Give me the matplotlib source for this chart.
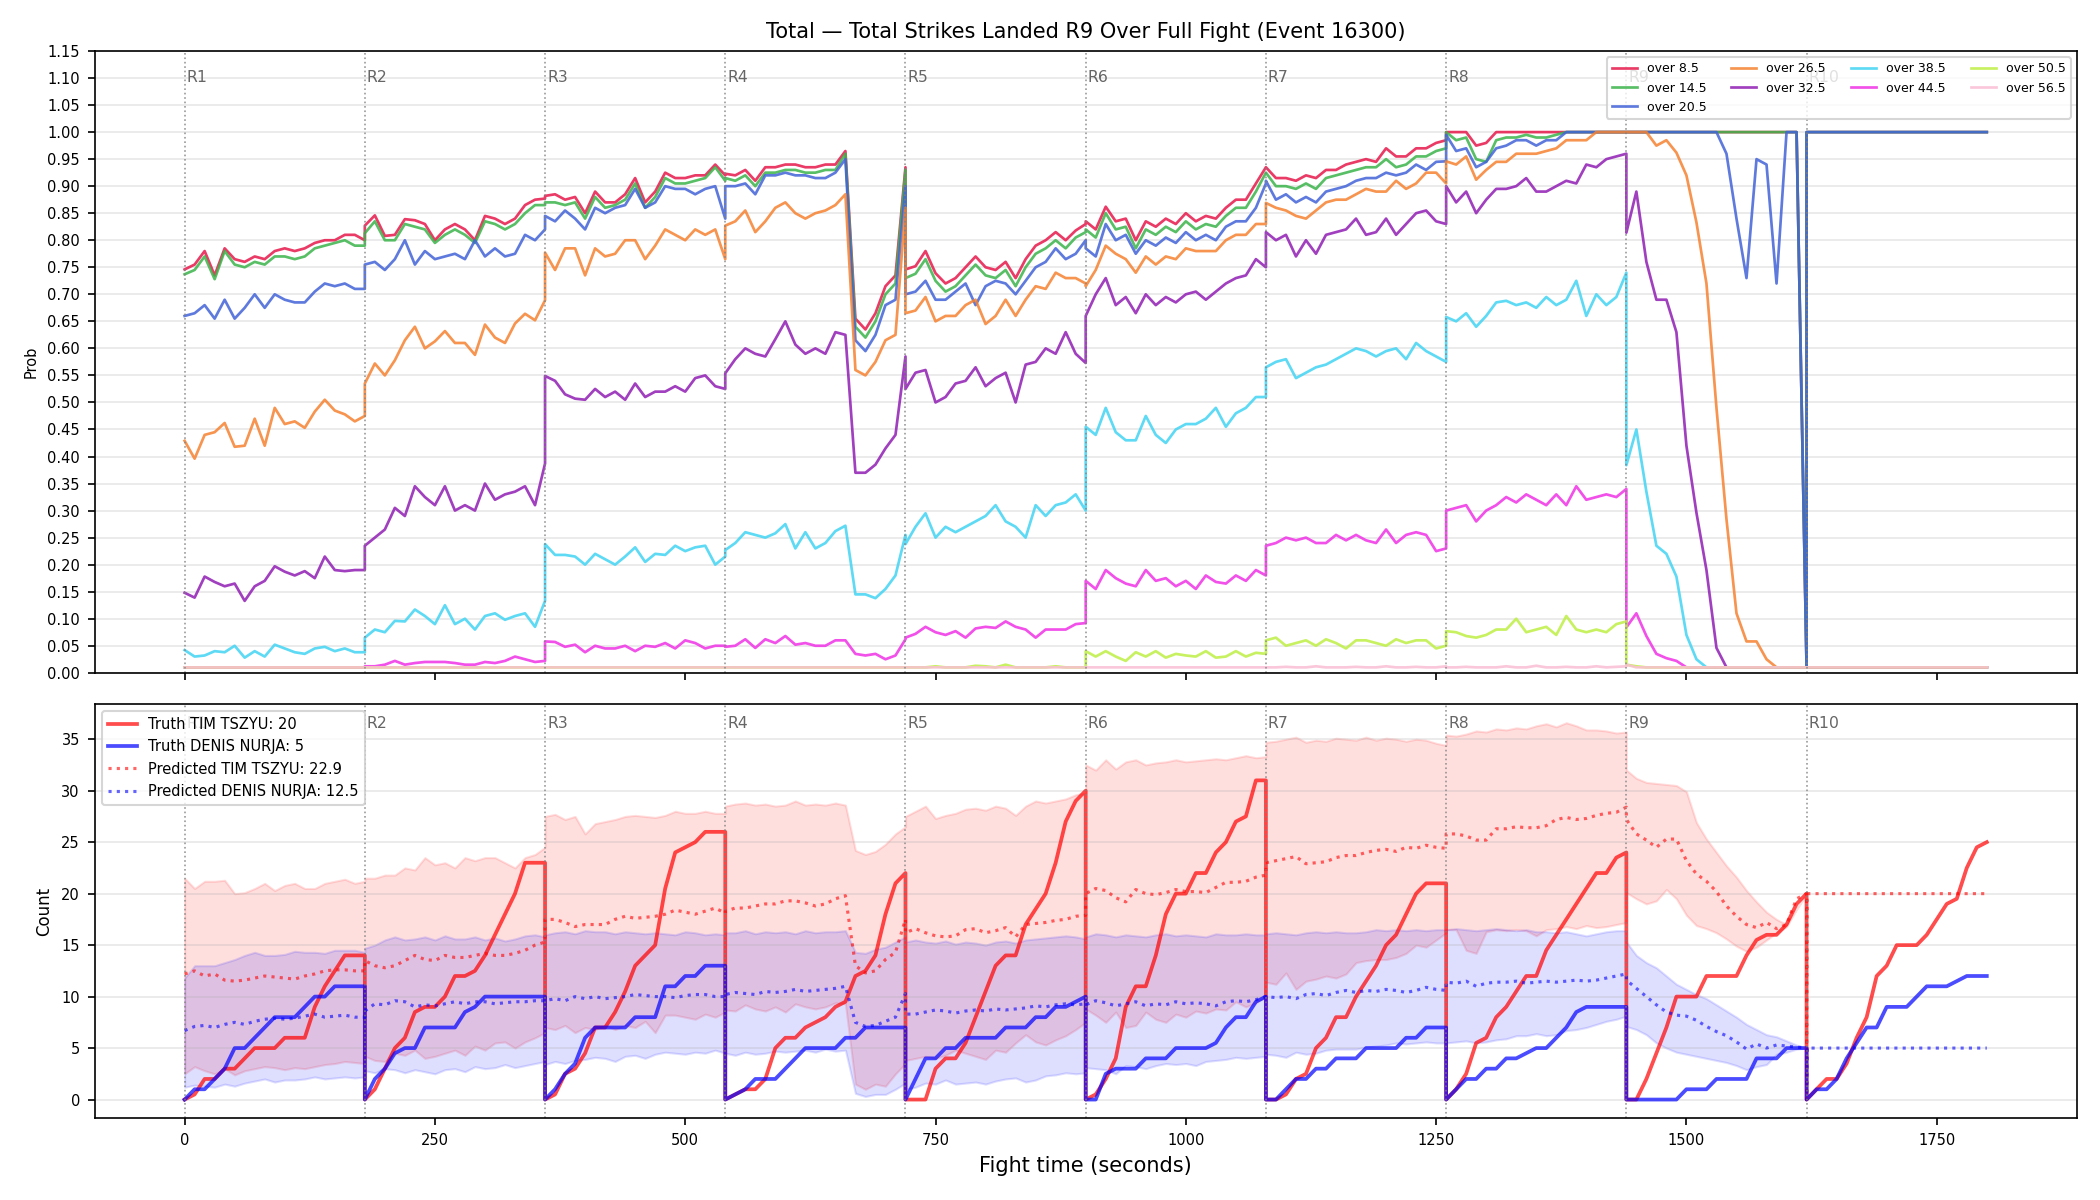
import numpy as np
import matplotlib.pyplot as plt

# ---- time grid: samples every 10 s inside each 180 s round ----
round_starts = [0, 180, 360, 540, 720, 900, 1080, 1260, 1440, 1620]
sec = list(range(0, 181, 10))
t_full = [s0 + s for s0 in round_starts for s in sec]
t_band = [s0 + s for s0 in round_starts[:9] for s in sec]
pred_r10_sec = [0, 0.5] + list(range(10, 181, 10))
t_pred = t_band + [1620 + s for s in pred_r10_sec]

# ---- top panel: P(total > line), one sub-list per round ----
over_8_5 = [
    [0.746, 0.755, 0.78, 0.735, 0.785, 0.765, 0.76, 0.77, 0.765, 0.78, 0.785, 0.78, 0.785, 0.795, 0.80, 0.80, 0.81, 0.81, 0.80],
    [0.827, 0.846, 0.808, 0.81, 0.839, 0.837, 0.83, 0.80, 0.82, 0.83, 0.82, 0.80, 0.845, 0.84, 0.83, 0.84, 0.865, 0.875, 0.877],
    [0.882, 0.885, 0.875, 0.88, 0.85, 0.89, 0.87, 0.87, 0.885, 0.915, 0.87, 0.89, 0.925, 0.915, 0.915, 0.92, 0.92, 0.94, 0.92],
    [0.923, 0.92, 0.93, 0.91, 0.935, 0.935, 0.94, 0.94, 0.935, 0.935, 0.94, 0.94, 0.965, 0.655, 0.635, 0.665, 0.715, 0.735, 0.935],
    [0.746, 0.752, 0.78, 0.739, 0.72, 0.73, 0.75, 0.77, 0.75, 0.745, 0.76, 0.73, 0.765, 0.79, 0.80, 0.815, 0.80, 0.818, 0.83],
    [0.835, 0.82, 0.862, 0.835, 0.84, 0.80, 0.835, 0.825, 0.84, 0.83, 0.85, 0.835, 0.845, 0.84, 0.86, 0.875, 0.875, 0.905, 0.935],
    [0.935, 0.915, 0.915, 0.91, 0.92, 0.915, 0.93, 0.93, 0.94, 0.945, 0.95, 0.945, 0.97, 0.955, 0.955, 0.97, 0.97, 0.98, 0.985],
    [1.0, 1.0, 1.0, 0.975, 0.98, 1.0, 1.0, 1.0, 1.0, 1.0, 1.0, 1.0, 1.0, 1.0, 1.0, 1.0, 1.0, 1.0, 1.0],
    [1.0] * 18 + [0.01],
    [1.0] * 19,
]
over_14_5 = [
    [0.737, 0.745, 0.77, 0.728, 0.78, 0.755, 0.75, 0.76, 0.755, 0.77, 0.77, 0.765, 0.77, 0.785, 0.79, 0.795, 0.80, 0.79, 0.79],
    [0.813, 0.835, 0.80, 0.80, 0.83, 0.825, 0.82, 0.795, 0.81, 0.82, 0.81, 0.795, 0.835, 0.83, 0.82, 0.83, 0.85, 0.865, 0.865],
    [0.87, 0.87, 0.865, 0.87, 0.84, 0.88, 0.86, 0.865, 0.875, 0.905, 0.86, 0.88, 0.915, 0.905, 0.905, 0.91, 0.915, 0.935, 0.91],
    [0.915, 0.91, 0.92, 0.90, 0.925, 0.925, 0.93, 0.93, 0.925, 0.925, 0.93, 0.93, 0.96, 0.64, 0.62, 0.65, 0.70, 0.72, 0.93],
    [0.73, 0.738, 0.765, 0.725, 0.705, 0.715, 0.735, 0.755, 0.735, 0.73, 0.745, 0.715, 0.75, 0.775, 0.785, 0.80, 0.785, 0.805, 0.815],
    [0.82, 0.805, 0.85, 0.82, 0.825, 0.785, 0.82, 0.81, 0.825, 0.815, 0.835, 0.82, 0.83, 0.825, 0.845, 0.86, 0.86, 0.89, 0.925],
    [0.925, 0.90, 0.90, 0.895, 0.905, 0.895, 0.915, 0.92, 0.925, 0.93, 0.935, 0.935, 0.95, 0.935, 0.94, 0.955, 0.955, 0.965, 0.97],
    [1.0, 0.985, 0.99, 0.95, 0.945, 0.985, 0.99, 0.99, 0.995, 0.99, 0.99, 0.995, 1.0, 1.0, 1.0, 1.0, 1.0, 1.0, 1.0],
    [1.0] * 18 + [0.01],
    [1.0] * 19,
]
over_20_5 = [
    [0.66, 0.665, 0.68, 0.655, 0.69, 0.655, 0.675, 0.70, 0.675, 0.70, 0.69, 0.685, 0.685, 0.705, 0.72, 0.715, 0.72, 0.71, 0.71],
    [0.755, 0.76, 0.745, 0.765, 0.80, 0.755, 0.78, 0.765, 0.77, 0.775, 0.765, 0.80, 0.77, 0.785, 0.77, 0.775, 0.81, 0.80, 0.82],
    [0.845, 0.835, 0.855, 0.84, 0.82, 0.86, 0.85, 0.86, 0.865, 0.895, 0.86, 0.87, 0.90, 0.895, 0.895, 0.885, 0.895, 0.90, 0.84],
    [0.90, 0.90, 0.905, 0.885, 0.92, 0.92, 0.925, 0.92, 0.92, 0.915, 0.915, 0.925, 0.95, 0.615, 0.595, 0.625, 0.68, 0.69, 0.90],
    [0.70, 0.705, 0.725, 0.69, 0.69, 0.705, 0.72, 0.68, 0.715, 0.725, 0.72, 0.70, 0.725, 0.75, 0.76, 0.785, 0.765, 0.775, 0.80],
    [0.785, 0.77, 0.83, 0.80, 0.81, 0.775, 0.80, 0.79, 0.805, 0.795, 0.815, 0.80, 0.81, 0.80, 0.825, 0.835, 0.835, 0.86, 0.905],
    [0.91, 0.875, 0.885, 0.87, 0.88, 0.87, 0.89, 0.895, 0.90, 0.91, 0.915, 0.915, 0.925, 0.92, 0.925, 0.94, 0.93, 0.945, 0.946],
    [0.995, 0.965, 0.97, 0.935, 0.945, 0.97, 0.975, 0.985, 0.985, 0.975, 0.985, 0.985, 1.0, 1.0, 1.0, 1.0, 1.0, 1.0, 1.0],
    [1.0] * 10 + [0.96, 0.84, 0.73, 0.95, 0.94, 0.72, 1.0, 1.0, 0.01],
    [1.0] * 19,
]
over_26_5 = [
    [0.429, 0.396, 0.44, 0.445, 0.462, 0.418, 0.42, 0.47, 0.42, 0.49, 0.46, 0.465, 0.453, 0.483, 0.505, 0.485, 0.478, 0.465, 0.475],
    [0.535, 0.572, 0.55, 0.578, 0.615, 0.64, 0.60, 0.613, 0.632, 0.61, 0.61, 0.588, 0.644, 0.62, 0.61, 0.646, 0.664, 0.652, 0.689],
    [0.777, 0.745, 0.785, 0.785, 0.735, 0.785, 0.77, 0.775, 0.80, 0.80, 0.765, 0.79, 0.82, 0.81, 0.80, 0.82, 0.81, 0.82, 0.765],
    [0.827, 0.835, 0.855, 0.815, 0.835, 0.86, 0.87, 0.85, 0.84, 0.85, 0.855, 0.865, 0.885, 0.56, 0.55, 0.575, 0.615, 0.625, 0.86],
    [0.665, 0.67, 0.695, 0.65, 0.66, 0.66, 0.68, 0.69, 0.645, 0.66, 0.69, 0.66, 0.69, 0.715, 0.71, 0.74, 0.73, 0.73, 0.72],
    [0.715, 0.745, 0.79, 0.775, 0.765, 0.74, 0.77, 0.755, 0.77, 0.765, 0.785, 0.78, 0.78, 0.78, 0.80, 0.81, 0.81, 0.83, 0.83],
    [0.869, 0.86, 0.855, 0.845, 0.84, 0.855, 0.87, 0.875, 0.875, 0.885, 0.895, 0.89, 0.89, 0.91, 0.895, 0.905, 0.925, 0.925, 0.905],
    [0.946, 0.94, 0.955, 0.912, 0.93, 0.945, 0.945, 0.96, 0.96, 0.96, 0.965, 0.97, 0.985, 0.985, 0.985, 1.0, 1.0, 1.0, 1.0],
    [1.0, 1.0, 1.0, 0.975, 0.985, 0.962, 0.92, 0.833, 0.72, 0.49, 0.284, 0.11, 0.058, 0.058, 0.025, 0.01, 0.01, 0.01, 0.01],
    [0.01] * 19,
]
over_32_5 = [
    [0.148, 0.139, 0.178, 0.168, 0.16, 0.165, 0.133, 0.16, 0.17, 0.197, 0.187, 0.18, 0.188, 0.175, 0.215, 0.19, 0.188, 0.19, 0.19],
    [0.235, 0.25, 0.265, 0.305, 0.29, 0.345, 0.325, 0.31, 0.345, 0.30, 0.31, 0.30, 0.35, 0.32, 0.33, 0.335, 0.345, 0.31, 0.387],
    [0.549, 0.54, 0.515, 0.507, 0.505, 0.525, 0.51, 0.52, 0.505, 0.535, 0.51, 0.52, 0.52, 0.53, 0.52, 0.545, 0.55, 0.53, 0.525],
    [0.554, 0.58, 0.60, 0.59, 0.585, 0.617, 0.65, 0.607, 0.59, 0.60, 0.59, 0.63, 0.625, 0.37, 0.37, 0.385, 0.415, 0.44, 0.585],
    [0.525, 0.555, 0.56, 0.50, 0.51, 0.535, 0.54, 0.565, 0.53, 0.545, 0.555, 0.50, 0.57, 0.575, 0.60, 0.59, 0.63, 0.59, 0.573],
    [0.66, 0.70, 0.73, 0.68, 0.695, 0.665, 0.70, 0.68, 0.695, 0.685, 0.70, 0.705, 0.69, 0.705, 0.72, 0.73, 0.735, 0.765, 0.75],
    [0.815, 0.80, 0.81, 0.77, 0.80, 0.775, 0.81, 0.815, 0.82, 0.84, 0.81, 0.815, 0.84, 0.81, 0.83, 0.85, 0.855, 0.835, 0.83],
    [0.90, 0.87, 0.89, 0.85, 0.875, 0.895, 0.895, 0.90, 0.915, 0.89, 0.89, 0.90, 0.91, 0.905, 0.94, 0.935, 0.95, 0.955, 0.96],
    [0.814, 0.89, 0.76, 0.69, 0.69, 0.63, 0.42, 0.296, 0.19, 0.046] + [0.01] * 9,
    [0.01] * 19,
]
over_38_5 = [
    [0.042, 0.03, 0.032, 0.04, 0.038, 0.05, 0.028, 0.04, 0.03, 0.052, 0.045, 0.038, 0.035, 0.045, 0.048, 0.04, 0.045, 0.038, 0.038],
    [0.065, 0.08, 0.075, 0.096, 0.095, 0.117, 0.105, 0.09, 0.125, 0.09, 0.10, 0.08, 0.105, 0.11, 0.098, 0.105, 0.11, 0.085, 0.133],
    [0.238, 0.218, 0.218, 0.215, 0.20, 0.22, 0.21, 0.20, 0.215, 0.232, 0.205, 0.22, 0.218, 0.235, 0.225, 0.232, 0.235, 0.20, 0.215],
    [0.227, 0.24, 0.26, 0.255, 0.25, 0.258, 0.275, 0.23, 0.26, 0.23, 0.24, 0.262, 0.272, 0.145, 0.145, 0.138, 0.155, 0.18, 0.255],
    [0.238, 0.27, 0.295, 0.25, 0.27, 0.26, 0.27, 0.28, 0.29, 0.31, 0.28, 0.27, 0.25, 0.31, 0.29, 0.31, 0.315, 0.33, 0.30],
    [0.455, 0.44, 0.49, 0.445, 0.43, 0.43, 0.475, 0.44, 0.425, 0.45, 0.46, 0.46, 0.47, 0.49, 0.455, 0.48, 0.49, 0.51, 0.51],
    [0.565, 0.575, 0.58, 0.545, 0.555, 0.565, 0.57, 0.58, 0.59, 0.60, 0.595, 0.585, 0.595, 0.60, 0.58, 0.61, 0.595, 0.585, 0.575],
    [0.658, 0.65, 0.665, 0.64, 0.66, 0.685, 0.688, 0.68, 0.685, 0.675, 0.695, 0.68, 0.69, 0.725, 0.66, 0.70, 0.68, 0.695, 0.74],
    [0.384, 0.45, 0.335, 0.235, 0.22, 0.178, 0.07, 0.025] + [0.01] * 11,
    [0.01] * 19,
]
over_44_5 = [
    [0.01] * 19,
    [0.012, 0.012, 0.015, 0.022, 0.015, 0.018, 0.02, 0.02, 0.02, 0.018, 0.015, 0.015, 0.02, 0.018, 0.022, 0.03, 0.025, 0.02, 0.022],
    [0.058, 0.057, 0.048, 0.052, 0.038, 0.05, 0.045, 0.045, 0.05, 0.04, 0.05, 0.048, 0.055, 0.045, 0.06, 0.055, 0.045, 0.05, 0.05],
    [0.048, 0.05, 0.062, 0.046, 0.062, 0.055, 0.068, 0.052, 0.055, 0.05, 0.05, 0.06, 0.06, 0.035, 0.032, 0.035, 0.025, 0.032, 0.062],
    [0.065, 0.072, 0.085, 0.075, 0.07, 0.077, 0.065, 0.082, 0.085, 0.083, 0.095, 0.085, 0.08, 0.065, 0.08, 0.08, 0.08, 0.09, 0.092],
    [0.17, 0.155, 0.19, 0.175, 0.165, 0.16, 0.19, 0.17, 0.175, 0.16, 0.17, 0.155, 0.18, 0.168, 0.165, 0.18, 0.17, 0.19, 0.18],
    [0.235, 0.24, 0.25, 0.245, 0.25, 0.24, 0.24, 0.255, 0.245, 0.255, 0.245, 0.24, 0.265, 0.24, 0.255, 0.26, 0.255, 0.225, 0.23],
    [0.30, 0.305, 0.31, 0.28, 0.30, 0.31, 0.325, 0.315, 0.33, 0.32, 0.31, 0.33, 0.31, 0.345, 0.32, 0.325, 0.33, 0.325, 0.34],
    [0.084, 0.11, 0.068, 0.035, 0.027, 0.022] + [0.01] * 13,
    [0.01] * 19,
]
over_50_5 = [
    [0.01] * 19,
    [0.01] * 19,
    [0.01] * 19,
    [0.01] * 19,
    [0.01, 0.01, 0.01, 0.012, 0.01, 0.01, 0.01, 0.013, 0.012, 0.01, 0.015, 0.01, 0.01, 0.01, 0.01, 0.012, 0.01, 0.01, 0.01],
    [0.04, 0.03, 0.04, 0.03, 0.022, 0.038, 0.03, 0.04, 0.028, 0.035, 0.032, 0.03, 0.04, 0.028, 0.03, 0.04, 0.03, 0.037, 0.035],
    [0.06, 0.065, 0.05, 0.055, 0.06, 0.05, 0.062, 0.055, 0.045, 0.06, 0.06, 0.055, 0.05, 0.062, 0.055, 0.06, 0.06, 0.045, 0.05],
    [0.077, 0.075, 0.068, 0.065, 0.07, 0.08, 0.08, 0.10, 0.075, 0.08, 0.085, 0.07, 0.105, 0.08, 0.075, 0.08, 0.075, 0.09, 0.095],
    [0.015, 0.012] + [0.01] * 17,
    [0.01] * 19,
]
over_56_5 = [
    [0.01] * 19,
    [0.01] * 19,
    [0.01] * 19,
    [0.01] * 19,
    [0.01] * 19,
    [0.01] * 19,
    [0.01, 0.01, 0.011, 0.01, 0.01, 0.012, 0.01, 0.01, 0.01, 0.011, 0.01, 0.01, 0.012, 0.01, 0.01, 0.011, 0.01, 0.01, 0.012],
    [0.01, 0.01, 0.011, 0.01, 0.01, 0.01, 0.012, 0.01, 0.01, 0.013, 0.01, 0.01, 0.011, 0.01, 0.01, 0.012, 0.01, 0.011, 0.012],
    [0.015] + [0.01] * 18,
    [0.01] * 19,
]
line_labels = ['over 8.5', 'over 14.5', 'over 20.5', 'over 26.5', 'over 32.5',
               'over 38.5', 'over 44.5', 'over 50.5', 'over 56.5']
line_colors = ['#e6194b', '#3cb44b', '#4363d8', '#f58231', '#911eb4',
               '#42d4f4', '#f032e6', '#bfef45', '#fabed4']
prob_series = [over_8_5, over_14_5, over_20_5, over_26_5, over_32_5,
               over_38_5, over_44_5, over_50_5, over_56_5]

# ---- bottom panel: cumulative strikes per round ----
fighters = ['TIM TSZYU', 'DENIS NURJA']
truth_r9 = [20, 5]
pred_r9 = [22.9, 12.5]

truth_tszyu = [
    [0, 0.5, 2, 2, 3, 3, 4, 5, 5, 5, 6, 6, 6, 9, 11, 12.5, 14, 14, 14],
    [0, 1, 3, 5, 6, 8.5, 9, 9, 10, 12, 12, 12.5, 14, 16, 18, 20, 23, 23, 23],
    [0, 0.5, 2.5, 3, 4.5, 7, 7, 8.5, 10.5, 13, 14, 15, 20.5, 24, 24.5, 25, 26, 26, 26],
    [0, 0.5, 1, 1, 2, 5, 6, 6, 7, 7.5, 8, 9, 9.5, 12, 12.5, 14, 18, 21, 22],
    [0, 0, 0, 3, 4, 4, 5.5, 8, 10.5, 13, 14, 14, 17, 18.5, 20, 23, 27, 29, 30],
    [0, 0.5, 2, 4, 9, 11, 11, 14, 18, 20, 20, 22, 22, 24, 25, 27, 27.5, 31, 31],
    [0, 0, 0.5, 2, 2.5, 5, 6, 8, 8, 10, 11.5, 13, 15, 16, 18, 20, 21, 21, 21],
    [0, 1, 2.5, 5.5, 6, 8, 9, 10.5, 12, 12, 14.5, 16, 17.5, 19, 20.5, 22, 22, 23.5, 24],
    [0, 0, 2, 4.5, 7, 10, 10, 10, 12, 12, 12, 12, 14, 15.5, 16, 16, 17, 19, 20],
    [0, 1, 2, 2, 3.5, 6, 8, 12, 13, 15, 15, 15, 16, 17.5, 19, 19.5, 22.5, 24.5, 25],
]
truth_nurja = [
    [0, 1, 1, 2, 3, 5, 5, 6, 7, 8, 8, 8, 9, 10, 10, 11, 11, 11, 11],
    [0, 2, 3, 4.5, 5, 5, 7, 7, 7, 7, 8.5, 9, 10, 10, 10, 10, 10, 10, 10],
    [0, 1, 2.5, 3.5, 6, 7, 7, 7, 7, 8, 8, 8, 11, 11, 12, 12, 13, 13, 13],
    [0, 0.5, 1, 2, 2, 2, 3, 4, 5, 5, 5, 5, 6, 6, 7, 7, 7, 7, 7],
    [0, 2, 4, 4, 5, 5, 6, 6, 6, 6, 7, 7, 7, 8, 8, 9, 9, 9.5, 10],
    [0, 0, 2.5, 3, 3, 3, 4, 4, 4, 5, 5, 5, 5, 5.5, 7, 8, 8, 9.5, 10],
    [0, 0, 1, 2, 2, 3, 3, 4, 4, 4, 5, 5, 5, 5, 6, 6, 7, 7, 7],
    [0, 1, 2, 2, 3, 3, 4, 4, 4.5, 5, 5, 6, 7, 8.5, 9, 9, 9, 9, 9],
    [0, 0, 0, 0, 0, 0, 1, 1, 1, 2, 2, 2, 2, 4, 4, 4, 5, 5, 5],
    [0, 1, 1, 2, 4, 5.5, 7, 7, 9, 9, 9, 10, 11, 11, 11, 11.5, 12, 12, 12],
]
pred_tszyu = [
    [12.2, 12.5, 12, 12.2, 11.6, 11.5, 11.6, 11.8, 12, 11.9, 11.8, 11.7, 12, 12.2, 12.5, 12.6, 12.6, 12.5, 12.5],
    [13.5, 13, 12.8, 13, 13.5, 14, 13.6, 13.5, 14, 13.8, 13.8, 14, 14.2, 14, 14, 14.2, 14.5, 15, 15.3],
    [17.5, 17.5, 17.2, 16.8, 17, 17, 17, 17.5, 17.8, 17.6, 17.7, 17.8, 18, 18.4, 18.2, 18, 18.3, 18.6, 18.1],
    [18.3, 18.6, 18.6, 18.8, 19, 19, 19.3, 19.3, 19.1, 18.8, 19, 19.5, 19.8, 13, 12.3, 12.5, 13.6, 14.3, 17.5],
    [16.2, 16.6, 16.2, 15.9, 15.8, 15.9, 16.5, 16.6, 16.2, 16.4, 16.7, 15.8, 17, 17.1, 17.2, 17.4, 17.5, 17.8, 17.9],
    [20, 20.5, 20.3, 19.6, 19.2, 20.4, 20, 19.9, 20.1, 20.4, 20.2, 20.2, 20.1, 20.6, 21.1, 21.1, 21.2, 21.6, 21.8],
    [23, 23.2, 23.4, 23.6, 22.9, 23, 23.1, 23.5, 23.7, 23.7, 24, 24.2, 24.3, 24.1, 24.5, 24.4, 24.7, 24.5, 24.4],
    [25.8, 25.8, 25.6, 25.2, 25.2, 26.3, 26.3, 26.5, 26.4, 26.4, 26.6, 27.2, 27.4, 27.2, 27.3, 27.6, 27.8, 27.9, 28.4],
    [27.2, 25.8, 25.2, 24.5, 25.3, 25.3, 23.2, 21.9, 21.2, 20.2, 18.8, 17.8, 17, 16.7, 17.2, 16.6, 17, 19.5, 20],
    [0] + [20] * 19,
]
pred_nurja = [
    [6.7, 7.1, 7.2, 7, 7.3, 7.5, 7.3, 7.6, 7.8, 7.9, 7.8, 7.9, 8.1, 8.3, 8, 8.1, 8.2, 8, 8],
    [8.6, 9.3, 9.2, 9.6, 9.5, 9, 9.2, 9.1, 9.3, 9.5, 9.3, 9.5, 9.5, 9.3, 9.4, 9.5, 9.5, 9.6, 9.6],
    [9.6, 9.8, 9.6, 10, 9.8, 10, 9.8, 9.9, 10, 10.2, 10.1, 10, 10, 9.9, 10.1, 10.2, 10.2, 10, 10],
    [10.2, 10.4, 10.3, 10.2, 10.5, 10.4, 10.5, 10.7, 10.5, 10.6, 10.7, 10.8, 11, 7.5, 7.1, 7.2, 7.6, 8.0, 10.3],
    [8.3, 8.3, 8.5, 8.7, 8.6, 8.4, 8.6, 8.7, 8.6, 8.8, 8.7, 8.8, 8.9, 9.1, 9.0, 9.2, 9.3, 9.2, 9.3],
    [9.2, 9.6, 9.4, 9.1, 9.3, 9.5, 9.1, 9.3, 9.2, 9.5, 9.3, 9.4, 9.3, 9.1, 9.5, 9.6, 9.5, 9.7, 10],
    [10, 9.9, 10, 9.8, 10.2, 10.3, 10.1, 10.4, 10.6, 10.4, 10.6, 10.5, 10.7, 10.6, 10.4, 10.6, 10.9, 10.7, 10.6],
    [11.4, 11.3, 11.5, 11, 11.3, 11.4, 11.4, 11.5, 11.3, 11.4, 11.5, 11.4, 11.5, 11.6, 11.5, 11.6, 11.8, 12, 12.2],
    [11.6, 10.8, 10, 9.2, 8.5, 8.2, 8.1, 7.7, 7.1, 6.6, 6.2, 5.6, 4.9, 5.4, 5.0, 5.3, 5.2, 5.1, 5],
    [0] + [5] * 19,
]
tszyu_hi = [
    [21.5, 20.5, 21.2, 21.2, 21.3, 20, 20.1, 20.5, 21, 20.3, 20.8, 21, 20.5, 20.5, 21, 21.2, 21.4, 21, 21.2],
    [21.5, 21.5, 21.8, 21.8, 22.5, 22.3, 23.5, 22.8, 23, 22.5, 23.5, 23.2, 23.5, 23.5, 23, 22.5, 23.5, 23.8, 24.5],
    [27.5, 27.7, 27.2, 27.5, 25.8, 26.8, 27, 27.2, 27.5, 27.6, 27.5, 27.4, 27.6, 28, 27.8, 27.8, 28, 27.8, 27.8],
    [28.5, 28.7, 28.8, 28.6, 28.7, 28.5, 28.6, 29, 28.6, 28.7, 28.6, 28.8, 28.6, 24.2, 23.8, 24.1, 24.8, 25.8, 26.5],
    [27.5, 28.0, 28.5, 27.3, 27.6, 27.8, 28.2, 28.3, 28.1, 28.5, 28.3, 27.6, 28.5, 29, 28.8, 29, 29.2, 29.6, 29.8],
    [32.5, 32, 33, 32.1, 32.8, 33, 32.5, 32.7, 32.8, 33, 32.8, 32.9, 33, 33.1, 33, 33.2, 33.4, 33.2, 33.3],
    [34.7, 34.8, 35, 35.2, 34.7, 34.9, 34.8, 35.1, 35, 34.9, 35.2, 34.9, 35.1, 35, 34.8, 35, 34.9, 34.6, 34.4],
    [35.4, 35.3, 35.5, 35.8, 35.7, 36, 35.9, 36.1, 36, 36.3, 36.5, 36.2, 36.6, 36.3, 35.9, 35.9, 35.8, 35.6, 35.7],
    [32, 31.2, 30.8, 30.7, 30.6, 30.5, 29.9, 26.9, 25.3, 24, 22.7, 21.6, 20.3, 19.2, 18.2, 17.5, 17, 18.5, 20],
]
tszyu_lo = [
    [2.5, 3.2, 2.8, 2.5, 3, 2.4, 2.8, 3, 3.2, 3.1, 2.9, 3.1, 3, 3.2, 3.4, 3.5, 3.7, 3.6, 3.5],
    [4.2, 3.8, 3.7, 4.5, 4.3, 4.8, 4.0, 4.2, 4.5, 4.8, 4.3, 5.2, 4.8, 5.5, 5.6, 5, 5.6, 6, 6.5],
    [7.0, 6.8, 7.2, 6.5, 7.0, 6.8, 7.2, 6.8, 7.2, 7.0, 7.6, 6.5, 8.2, 8.2, 8.0, 7.8, 8.3, 8.0, 8.5],
    [8.7, 8.6, 9.2, 8.8, 8.6, 9.0, 8.5, 9.3, 9.0, 8.8, 9.0, 9.4, 9.3, 1.5, 1.0, 1.5, 1.3, 2.5, 3.5],
    [3.8, 4.0, 4.2, 4.0, 4.3, 4.8, 4.5, 4.2, 3.9, 4.8, 4.6, 5.5, 6.3, 5.6, 5.3, 5.8, 6.2, 6.8, 7.5],
    [8.8, 8.2, 7.5, 8.5, 7.0, 7.2, 8.5, 7.8, 7.5, 8.3, 8.0, 8.6, 8.4, 8.8, 8.7, 9.5, 9.0, 9.4, 10],
    [11.4, 11.2, 12.3, 10.7, 11.5, 11.7, 12, 11.8, 12.2, 13.3, 13.5, 13.6, 13.6, 13.8, 14.2, 15, 14.8, 15.5, 16.2],
    [16.5, 16.5, 14.5, 14.2, 16.3, 16.5, 16.4, 16.5, 16.4, 15.9, 16.5, 16.6, 16.8, 16.6, 16.9, 16.7, 16.8, 17, 17.2],
    [20.1, 19.5, 19, 19.3, 20.4, 19.5, 17.9, 16.9, 16.6, 16.2, 15.6, 14.9, 14.4, 14.8, 15.5, 16.2, 16.8, 18.5, 20],
]
nurja_hi = [
    [11.8, 13, 13, 13, 13.3, 13.6, 14, 14.3, 14, 14, 14.1, 14.4, 14.3, 14.3, 14.2, 14.5, 14.5, 14.5, 14.3],
    [14.7, 15, 15.5, 15.8, 15.5, 15.6, 15.8, 15.5, 15.9, 15.6, 15.6, 15.8, 15.5, 15.7, 15.4, 15.6, 15.9, 16, 15.8],
    [16, 16.2, 16.3, 16.1, 16.4, 16.3, 16.3, 16.1, 16.3, 16.2, 16.1, 16.2, 16.1, 16, 16.3, 16.2, 16, 16.1, 16],
    [16.2, 16.2, 16.4, 16.1, 16.3, 16.2, 16.3, 16.1, 16.4, 16.2, 16.3, 16.3, 16.4, 14.3, 14.2, 14.6, 14.8, 15.3, 15.8],
    [15.3, 15.5, 15.3, 15.2, 15.4, 15.1, 15.3, 15.2, 15.0, 15.3, 15.4, 15.2, 15.5, 15.6, 15.7, 15.8, 15.9, 15.8, 15.6],
    [15.8, 16.1, 16, 15.8, 16, 15.9, 15.8, 16, 16.1, 15.9, 16, 15.9, 15.8, 16.1, 16, 16, 16.1, 16, 16],
    [16.1, 16.2, 16.1, 16, 16.2, 16.3, 16.2, 16.3, 16.2, 16.2, 16.3, 16.5, 16.4, 16.5, 16.4, 16.5, 16.4, 16.5, 16.5],
    [16.5, 16.6, 16.5, 16.4, 16.5, 16.6, 16.5, 16.4, 16.5, 16.3, 16.3, 16.2, 16.3, 16.1, 15.9, 16.1, 16.3, 16.4, 16.4],
    [15.3, 14, 13.3, 12.8, 12, 11.2, 10.7, 10.2, 9.8, 9.2, 8.6, 8, 7.3, 6.8, 6.3, 6.1, 5.7, 5.3, 5],
]
nurja_lo = [
    [1.2, 1.4, 1.3, 1.2, 1.5, 1.3, 1.6, 1.8, 2.0, 1.7, 1.9, 1.9, 2.0, 2.2, 2.0, 2.1, 2.2, 2.1, 2.2],
    [2.8, 2.6, 3.0, 2.9, 2.6, 2.9, 2.7, 2.5, 2.9, 3.0, 2.7, 3.2, 3.0, 3.1, 3.4, 3.1, 3.3, 3.5, 3.7],
    [3.4, 3.7, 3.5, 3.8, 3.9, 4.1, 4.0, 3.7, 4.2, 4.3, 4.0, 4.4, 4.6, 4.5, 4.4, 4.6, 4.5, 4.8, 4.5],
    [4.5, 4.3, 4.6, 4.4, 4.5, 4.7, 4.6, 4.7, 4.8, 4.6, 4.9, 4.7, 4.8, 0.6, 0.3, 0.5, 0.5, 1.0, 1.6],
    [1.0, 1.2, 1.6, 1.5, 1.9, 1.5, 1.6, 1.7, 1.5, 1.8, 2.0, 2.1, 1.7, 1.9, 2.3, 2.4, 2.6, 2.5, 2.6],
    [3.1, 3.0, 2.9, 2.5, 3.3, 3.2, 3.0, 3.3, 3.5, 3.4, 3.5, 3.3, 3.7, 3.8, 3.9, 4.1, 4.0, 4.1, 4.2],
    [4.4, 4.3, 4.1, 4.6, 4.4, 4.5, 4.8, 4.9, 4.9, 4.9, 5.1, 5.2, 5.3, 5.5, 5.4, 5.5, 5.6, 5.5, 5.5],
    [5.5, 5.6, 5.7, 5.5, 5.6, 5.8, 5.9, 6.2, 6.2, 6.4, 6.2, 6.3, 6.7, 6.8, 7.0, 7.3, 7.6, 7.8, 8.1],
    [7.1, 6.8, 6.3, 5.5, 5.0, 4.6, 4.4, 4.2, 4.0, 3.8, 3.6, 3.3, 2.9, 3.2, 3.4, 4.4, 4.6, 4.9, 5],
]


def flat(rounds):
    return np.concatenate([np.asarray(r, dtype=float) for r in rounds])


fig, (ax1, ax2) = plt.subplots(2, 1, figsize=(14, 8), dpi=150, sharex=True,
                               gridspec_kw={'height_ratios': [3, 2]})
fig.subplots_adjust(left=0.045, right=0.989, top=0.9575, bottom=0.068, hspace=0.06)

# top: probabilities
for lab, vals, col in zip(line_labels, prob_series, line_colors):
    ax1.plot(t_full, flat(vals), color=col, lw=1.3, alpha=0.85, label=lab)

ax1.set_ylim(0, 1.15)
ax1.set_yticks(np.arange(0, 1.151, 0.05))
ax1.set_ylabel('Prob', fontsize=7)
ax1.set_title('Total \u2014 Total Strikes Landed R9 Over Full Fight (Event 16300)', fontsize=10)
ax1.grid(True, axis='y', alpha=0.3)
ax1.legend(loc='upper right', ncol=4, fontsize=6, framealpha=0.8)

# bottom: counts
ax2.fill_between(t_band, flat(tszyu_lo), flat(tszyu_hi), color='red', alpha=0.13)
ax2.fill_between(t_band, flat(nurja_lo), flat(nurja_hi), color='blue', alpha=0.13)
ax2.plot(t_full, flat(truth_tszyu), color='red', lw=1.8, alpha=0.7,
         label=f'Truth {fighters[0]}: {truth_r9[0]}')
ax2.plot(t_full, flat(truth_nurja), color='blue', lw=1.8, alpha=0.7,
         label=f'Truth {fighters[1]}: {truth_r9[1]}')
ax2.plot(t_pred, flat(pred_tszyu), color='red', ls=':', lw=1.5, alpha=0.6,
         label=f'Predicted {fighters[0]}: {pred_r9[0]}')
ax2.plot(t_pred, flat(pred_nurja), color='blue', ls=':', lw=1.5, alpha=0.6,
         label=f'Predicted {fighters[1]}: {pred_r9[1]}')
ax2.set_ylabel('Count', fontsize=8)
ax2.set_xlabel('Fight time (seconds)', fontsize=10)
ax2.grid(True, axis='y', alpha=0.3)
ax2.legend(loc='upper left', fontsize=7, framealpha=0.8)

# round markers (labels sit under the legends, as in the original)
for ax in (ax1, ax2):
    for i, s0 in enumerate(round_starts):
        ax.axvline(s0, color='gray', ls=':', lw=0.8, alpha=0.8)
        ax.text(s0 + 2, 0.97, f'R{i + 1}', transform=ax.get_xaxis_transform(),
                ha='left', va='top', fontsize=7.5, color='#666666')
    ax.tick_params(labelsize=7)

fig.savefig('out.png', dpi=150)
